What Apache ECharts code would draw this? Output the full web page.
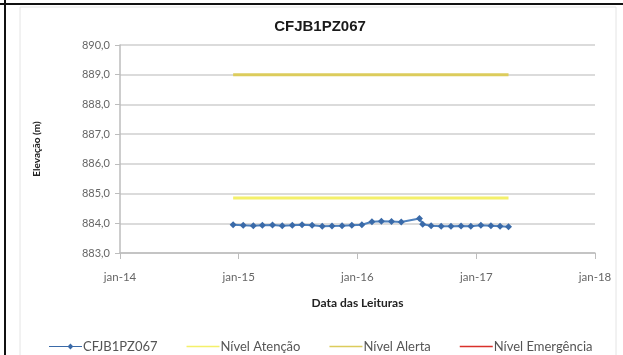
<!DOCTYPE html>
<html>
<head>
<meta charset="utf-8">
<script src="https://cdn.jsdelivr.net/npm/echarts@6/dist/echarts.min.js"></script>
<style>
html,body{margin:0;padding:0;background:#fff;}
#chart{width:623px;height:355px;}
</style>
</head>
<body>
<div id="chart"></div>
<script>
// Leituras mensais do piezômetro CFJB1PZ067
const readingDates = [
  '2014-12-15','2015-01-15','2015-02-15','2015-03-15','2015-04-15','2015-05-15',
  '2015-06-15','2015-07-15','2015-08-15','2015-09-15','2015-10-15','2015-11-15',
  '2015-12-15','2016-01-15','2016-02-15','2016-03-15','2016-04-15','2016-05-15',
  '2016-07-10','2016-07-20','2016-08-15','2016-09-15','2016-10-15','2016-11-15',
  '2016-12-15','2017-01-15','2017-02-15','2017-03-15','2017-04-10'
];
const elevations = [
  883.95, 883.93, 883.92, 883.93, 883.94, 883.92,
  883.93, 883.95, 883.93, 883.90, 883.91, 883.92,
  883.93, 883.95, 884.05, 884.07, 884.06, 884.04,
  884.16, 883.97, 883.92, 883.90, 883.90, 883.91,
  883.90, 883.93, 883.92, 883.90, 883.88
];
// Níveis de controle (início e fim do período de leituras)
const levelDates = ['2014-12-15', '2017-04-10'];
const nivelAtencao = [884.85, 884.85];
const nivelAlerta = [889.0, 889.0];
const nivelEmergencia = [];
const yearTicks = ['jan-14', 'jan-15', 'jan-16', 'jan-17', 'jan-18'];

const pair = (xs, ys) => ys.map((v, i) => [xs[i], v]);
const font = 'Lato, "Open Sans", sans-serif';
const lineIcon = 'path://M0,4L40,4L40,6L0,6Z';

const chart = echarts.init(document.getElementById('chart'));
chart.setOption({
  animation: false,
  backgroundColor: '#fff',
  title: {
    text: 'CFJB1PZ067',
    left: 315, top: 14, textAlign: 'center',
    textStyle: { fontFamily: 'Liberation Sans, Arial, sans-serif', fontWeight: 'bold', fontSize: 15, color: '#1a1a1a' }
  },
  graphic: [
    { type: 'rect', shape: { x: 0, y: 3, width: 623, height: 2 }, style: { fill: '#111' } },
    { type: 'rect', shape: { x: 4, y: 0, width: 2, height: 355 }, style: { fill: '#111' } },
    { type: 'rect', shape: { x: 20, y: 7, width: 596, height: 350 }, style: { fill: 'none', stroke: '#e4e4e4', lineWidth: 1 } }
  ],
  legend: {
    top: 335, left: 44, itemGap: 29, itemWidth: 33, itemHeight: 12,
    textStyle: { fontFamily: font, fontSize: 13, color: '#555', padding: [0, 0, 0, -4] },
    data: [
      { name: 'CFJB1PZ067', icon: 'path://M0,5.4L40,5.4L40,6.6L0,6.6Z M26,2.5L29.5,6L26,9.5L22.5,6Z' },
      { name: 'Nível Atenção', icon: lineIcon },
      { name: 'Nível Alerta', icon: lineIcon },
      { name: 'Nível Emergência', icon: lineIcon }
    ]
  },
  grid: { left: 120, right: 28, top: 45, bottom: 102 },
  xAxis: {
    type: 'time',
    min: '2014-01-01', max: '2018-01-01',
    minInterval: 365 * 24 * 3600 * 1000, maxInterval: 366 * 24 * 3600 * 1000,
    name: 'Data das Leituras', nameLocation: 'middle', nameGap: 44,
    nameTextStyle: { fontFamily: font, fontWeight: 'bold', fontSize: 12, color: '#222' },
    axisLine: { lineStyle: { color: '#bdbdbd', width: 1.5 } },
    axisTick: { show: true, length: 6, lineStyle: { color: '#bdbdbd' } },
    splitLine: { show: false },
    axisLabel: {
      fontFamily: font, fontSize: 11.5, color: '#666', margin: 18,
      showMinLabel: true, showMaxLabel: true,
      formatter: function (v) {
        const y = new Date(v).getFullYear();
        return yearTicks[y - 2014] || '';
      }
    }
  },
  yAxis: {
    type: 'value', min: 883, max: 890, interval: 1,
    name: 'Elevação (m)', nameLocation: 'middle', nameGap: 78, nameRotate: 90,
    nameTextStyle: { fontFamily: font, fontWeight: 'bold', fontSize: 10, color: '#222' },
    axisLine: { show: true, lineStyle: { color: '#bdbdbd', width: 1.5 } },
    axisTick: { show: true, length: 5, lineStyle: { color: '#bdbdbd' } },
    splitLine: { lineStyle: { color: '#cfcfcf', width: 1.5 } },
    axisLabel: {
      fontFamily: font, fontSize: 11, color: '#666', margin: 10,
      formatter: v => v.toFixed(1).replace('.', ',')
    }
  },
  series: [
    {
      name: 'CFJB1PZ067', type: 'line', data: pair(readingDates, elevations),
      symbol: 'diamond', symbolSize: 7, showSymbol: true,
      itemStyle: { color: '#3a6aa8' },
      lineStyle: { color: '#4f81bd', width: 2 },
      z: 5
    },
    {
      name: 'Nível Atenção', type: 'line', data: pair(levelDates, nivelAtencao),
      symbol: 'none', itemStyle: { color: '#f4f06a' },
      lineStyle: { color: '#f4f06a', width: 3 }
    },
    {
      name: 'Nível Alerta', type: 'line', data: pair(levelDates, nivelAlerta),
      symbol: 'none', itemStyle: { color: '#dccc5c' },
      lineStyle: { color: '#dccc5c', width: 3 }
    },
    {
      name: 'Nível Emergência', type: 'line', data: pair(levelDates, nivelEmergencia),
      symbol: 'none', itemStyle: { color: '#d9312b' },
      lineStyle: { color: '#d9312b', width: 3 }
    }
  ]
});
</script>
</body>
</html>
